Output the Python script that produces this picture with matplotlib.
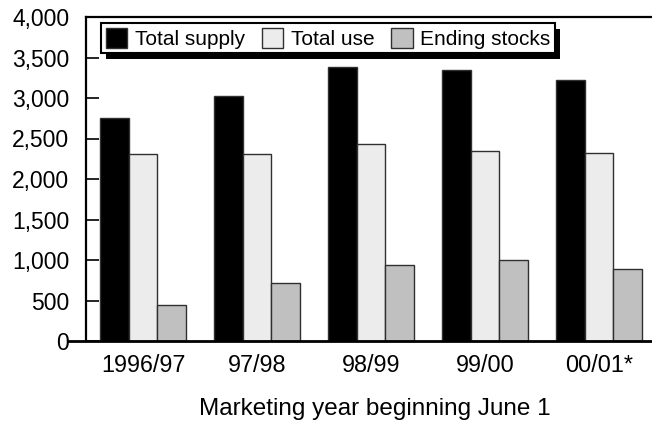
import numpy as np
import matplotlib
matplotlib.use('Agg')
import matplotlib.pyplot as plt
from matplotlib.patches import Rectangle

plt.rcParams['font.family'] = ['Liberation Sans', 'DejaVu Sans']

# Werte (1.000 t)
years = ["1996/97", "97/98", "98/99", "99/00", "00/01*"]
total_supply = [2750, 3025, 3385, 3350, 3220]
total_use = [2305, 2305, 2430, 2350, 2325]
ending_stocks = [440, 715, 940, 995, 885]

series = [("Total supply", total_supply, "#000000"),
          ("Total use", total_use, "#ececec"),
          ("Ending stocks", ending_stocks, "#c0c0c0")]

W, H = 652, 421
fig = plt.figure(figsize=(W / 100, H / 100), dpi=100)
ax = fig.add_axes([86 / W, 80 / H, 570 / W, 324 / H])

x = np.arange(len(years))
bw = 0.25
for i, (name, vals, col) in enumerate(series):
    ax.bar(x + (i - 1) * bw, vals, bw, color=col, edgecolor="#303030",
           linewidth=1.0, label=name, zorder=2)

ax.set_xlim(-0.5, 4.5)
ax.set_ylim(0, 4000)
ax.set_yticks(np.arange(0, 4001, 500))
ax.set_yticklabels([f"{v:,}" for v in range(0, 4001, 500)])
ax.set_xticks(x)
ax.set_xticklabels(years)

ax.tick_params(axis="y", direction="in", length=9, width=1.2, pad=12,
               labelsize=16.5)
ax.tick_params(axis="x", length=0, pad=9, labelsize=16.8)

for s in ["left", "top"]:
    ax.spines[s].set_linewidth(1.6)
ax.spines["right"].set_visible(False)
ax.spines["bottom"].set_visible(False)
# Nulllinie ragt links etwas heraus
ax.axhline(0, xmin=-0.032, xmax=1, color="black", lw=2.0, clip_on=False, zorder=3)

# Achsentitel ganz unten
fig.text(375 / W, 1 / H, "Marketing year beginning June 1", fontsize=17.5,
         ha="center", va="bottom")

leg = ax.legend(ncol=3, loc="upper left", bbox_to_anchor=(101 / W, 1 - 23 / H),
                bbox_transform=fig.transFigure, borderaxespad=0,
                fontsize=15, handlelength=1.05, handleheight=1.1,
                handletextpad=0.35, columnspacing=0.8, borderpad=0.22,
                frameon=True, fancybox=False, edgecolor="black",
                framealpha=1)
leg.get_frame().set_linewidth(1.5)

# Schatten hinter der Legende
fig.canvas.draw()
bb = leg.get_window_extent()
shadow = Rectangle((bb.x0 + 5, bb.y0 - 6), bb.width, bb.height, transform=None,
                   facecolor="black", edgecolor="none", zorder=4.5, clip_on=False)
ax.add_artist(shadow)

fig.savefig("out.png", dpi=100)
